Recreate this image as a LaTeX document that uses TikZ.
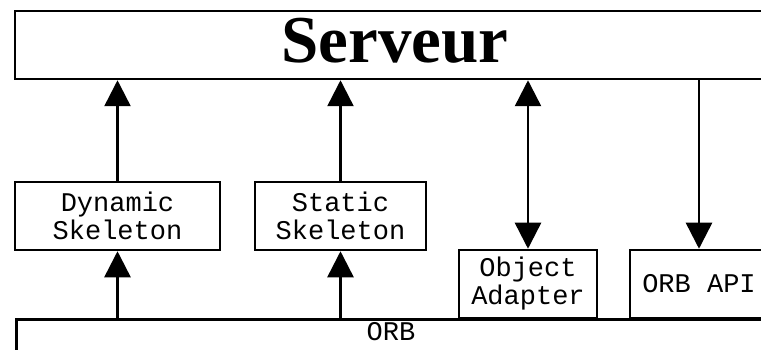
\documentclass[tikz,border=0pt]{standalone}
\usepackage{fontspec}
\setmainfont{Liberation Serif}
\setmonofont{Liberation Mono}
\usetikzlibrary{arrows.meta, positioning}

\begin{document}
\begin{tikzpicture}[
                x=1pt, y=-1pt,
                line join=miter,
                >={Triangle[length=26pt, width=26pt]},
                layerbox/.style={draw=black, line width=2.5pt, fill=white, inner sep=0pt, align=center, font=\fontsize{27}{28}\selectfont\ttfamily},
                callarrow/.style={line width=2.5pt}
                ]
                \useasboundingbox (0,0) rectangle (761,350);

                %% Layers
                \node[layerbox, minimum width=760pt, minimum height=68pt] (serveur) at (395,45) {};
                \node[anchor=base, font=\fontsize{67}{67}\selectfont\bfseries] (serveurtext) at (395,63) {Serveur};
                \node[layerbox, minimum width=752pt, minimum height=68pt, anchor=north west] (orb) at (15,318) {};
                \node[anchor=base, font=\fontsize{27}{28}\selectfont\ttfamily] (orbtext) at (391,340) {ORB};

                %% Components
                \node[layerbox, minimum width=205pt, minimum height=68pt] (dynskel) at (117.5,216) {Dynamic\\Skeleton};
                \node[layerbox, minimum width=171pt, minimum height=68pt] (statskel) at (340.5,216) {Static\\Skeleton};
                \node[layerbox, minimum width=138pt, minimum height=68pt] (objadapt) at (528,284) {Object\\Adapter};
                \node[layerbox, minimum width=138pt, minimum height=68pt] (orbapi) at (699,284) {ORB API};

                %% Calls
                \draw[callarrow, ->] (dynskel.south |- orb.north) -- (dynskel.south);
                \draw[callarrow, ->] (dynskel.north) -- (dynskel.north |- serveur.south);
                \draw[callarrow, ->] (statskel.south |- orb.north) -- (statskel.south);
                \draw[callarrow, ->] (statskel.north) -- (statskel.north |- serveur.south);
                \draw[callarrow, <->] (objadapt.north) -- (objadapt.north |- serveur.south);
                \draw[callarrow, ->] (orbapi.north |- serveur.south) -- (orbapi.north);
\end{tikzpicture}
\end{document}
